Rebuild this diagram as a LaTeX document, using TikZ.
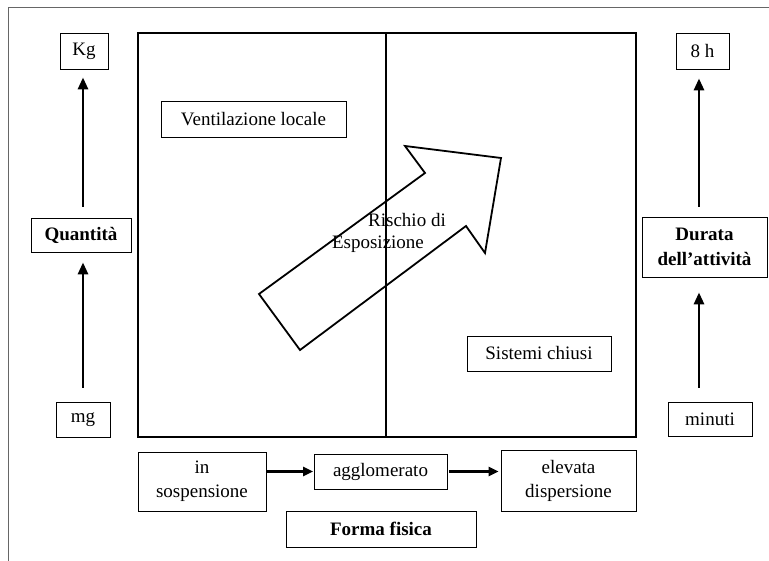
\documentclass[tikz,border=0pt]{standalone}
\usepackage{fontspec}
\setmainfont{Liberation Serif}
\usetikzlibrary{arrows.meta}
\begin{document}
\begin{tikzpicture}[x=1pt,y=-1pt,
  lbl/.style={draw, line width=0.8pt, inner sep=0pt, align=center,
    font=\fontsize{19}{24}\selectfont},
  uparr/.style={line width=2.8pt, -{Triangle[length=12pt,width=10pt]}},
  rarr/.style={line width=2.4pt, -{Triangle[length=10pt,width=9pt]}},
  bigarr/.style={draw, line width=1.8pt, line join=miter},
  txt/.style={inner sep=0pt, font=\fontsize{19}{21}\selectfont}]
\useasboundingbox (0,0) rectangle (769,561);
\fill[white] (0,0) rectangle (769,561);
% page frame
\draw[gray!80!black, line width=0.8pt] (8,561) -- (8,7) -- (769,7);
% main box
\draw[line width=1.5pt] (138,33) rectangle (636,437);
\coordinate (dtop) at (386,33);
\coordinate (dbot) at (386,437);
\draw[line width=1.5pt] (dtop) -- (dbot);
% left column
\node[lbl, minimum width=48pt, minimum height=36pt] (kg) at (84,51) {Kg};
\node[lbl, minimum width=100pt, minimum height=34pt, font=\fontsize{19}{21}\selectfont\bfseries] (q) at (81,235) {Quantità};
\node[lbl, minimum width=54pt, minimum height=35pt] (mg) at (83,419.5) {mg};
% right column
\node[lbl, minimum width=53pt, minimum height=36pt] (h8) at (702.5,51) {8 h};
\node[lbl, minimum width=125pt, minimum height=60pt, font=\fontsize{19}{25}\selectfont\bfseries] (dur) at (704.5,247) {Durata\\dell’attività};
\node[lbl, minimum width=84pt, minimum height=34pt] (min) at (710,419) {minuti};
% inside boxes
\node[lbl, minimum width=185pt, minimum height=36pt] (vent) at (253.5,119) {Ventilazione locale};
\node[lbl, minimum width=144pt, minimum height=35pt] (sist) at (539,353.5) {Sistemi chiusi};
% bottom row
\node[lbl, minimum width=128pt, minimum height=59pt] (sosp) at (202,481.5) {in\\sospensione};
\node[lbl, minimum width=133pt, minimum height=35pt] (agg) at (380.5,471.5) {agglomerato};
\node[lbl, minimum width=135pt, minimum height=61pt] (elev) at (568.5,480.5) {elevata\\dispersione};
\node[lbl, minimum width=190pt, minimum height=36pt, font=\fontsize{19}{21}\selectfont\bfseries] (forma) at (381,529) {Forma fisica};
% vertical arrows
\draw[uparr, shorten <=11pt, shorten >=8pt] ([xshift=-1pt]kg.south |- q.north) -- ([xshift=-1pt]kg.south);
\draw[uparr, shorten <=14pt, shorten >=10pt] (mg.north) -- (mg.north |- q.south);
\draw[uparr, shorten <=10pt, shorten >=9pt] ([xshift=-3.5pt]h8.south |- dur.north) -- ([xshift=-3.5pt]h8.south);
\draw[uparr, shorten <=14pt, shorten >=15pt] ([xshift=-3.5pt]h8.south |- min.north) -- ([xshift=-3.5pt]h8.south |- dur.south);
% horizontal arrows
\draw[rarr, shorten >=0.5pt] (sosp.east |- agg.west) -- (agg.west);
\draw[rarr, shorten <=2pt, shorten >=2pt] (agg.east) -- (agg.east -| elev.west);
% big arrow
\draw[bigarr] (300,350) -- (259,294) -- (425,173) -- (405,146) -- (501,158) -- (485,253) -- (466,226) -- cycle;
\node[txt] (r1) at (407,220) {Rischio di};
\node[txt] (r2) at (378,244) {Esposizione};
\end{tikzpicture}
\end{document}
